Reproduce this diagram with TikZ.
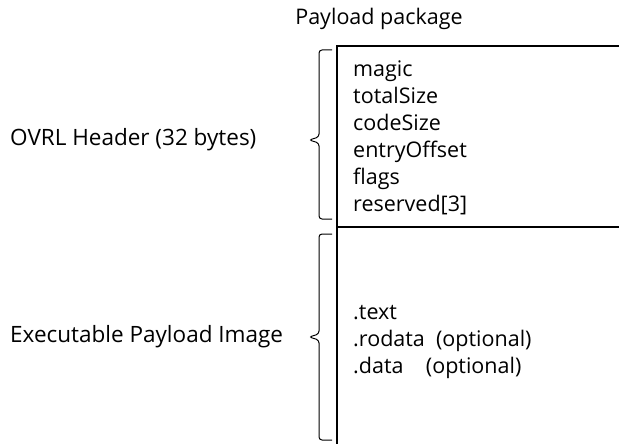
\documentclass[tikz,border=0pt]{standalone}
\usepackage{fontspec}
\setmainfont{Open Sans}
\begin{document}
\begin{tikzpicture}[
  x=1pt, y=-1pt,
  every node/.style={font=\fontsize{21.5}{27}\selectfont, inner sep=0pt},
  part/.style={draw, line width=1.2pt},
  lbl/.style={anchor=west, font=\fontsize{22.5}{27}\selectfont},
  fields/.style={anchor=north west, align=left},
  curly/.style={line width=1pt, rounded corners=3pt}
]
  \useasboundingbox (0,0) rectangle (619,444);
  \clip (0,0) rectangle (619,444);

  % payload package layout
  \node (title) at (379,19) {Payload package};
  \draw[part] (337,46) rectangle (640,227);
  \draw[part] (337,227) rectangle (640,460);

  \node[fields] (hdr) at (353,61) {magic\\ totalSize\\ codeSize\\ entryOffset\\ flags\\ reserved[3]};
  \node[fields] (img) at (353,305) {.text\\ .rodata\ \ (optional)\\ .data\ \ \ \ (optional)};

  % braces
  \draw[curly] (332,50) -- (319,50) -- (319,137) -- (309,140) -- (319,143) -- (319,219) -- (332,219);
  \draw[curly] (332,234) -- (319,234) -- (319,334) -- (309,337) -- (319,340) -- (319,440) -- (332,440);

  \node[lbl] (ovrl) at (10,140) {OVRL Header (32 bytes)};
  \node[lbl] (exe) at (10,337) {Executable Payload Image};
\end{tikzpicture}
\end{document}
